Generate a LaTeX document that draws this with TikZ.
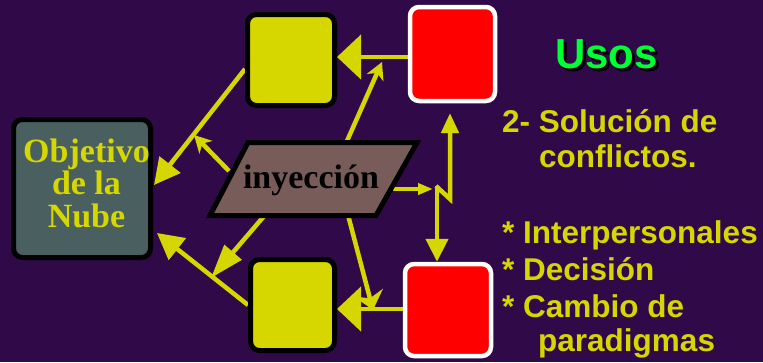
\documentclass[tikz,border=0pt]{standalone}
\usepackage{fontspec}
\setmainfont{Liberation Serif}
\setsansfont{Liberation Sans}[Ligatures=CommonOff]
\usetikzlibrary{arrows.meta}
\definecolor{bgpurple}{RGB}{48,10,72}
\definecolor{lemon}{RGB}{214,214,0}
\definecolor{slate}{RGB}{74,96,96}
\definecolor{clay}{RGB}{120,92,90}
\definecolor{brightgreen}{RGB}{0,255,51}
\pgfdeclarelayer{back}
\pgfdeclarelayer{links}
\pgfsetlayers{back,links,main}

\begin{document}
\begin{tikzpicture}[x=1pt,y=-1pt,
  box/.style={rectangle,rounded corners=9pt,line width=5pt,draw=black,inner sep=0pt},
  goalbox/.style={box,fill=slate,minimum width=137pt,minimum height=138pt},
  lemonbox/.style={box,fill=lemon},
  redbox/.style={box,draw=white,line width=4.5pt,fill=red},
  link/.style={draw=lemon,line width=4.5pt},
  bighead/.style={-{Triangle[length=24pt,width=44pt]}},
  goalhead/.style={-{Triangle[length=26pt,width=26pt]}},
  smallhead/.style={-{Stealth[length=17pt,width=18pt,inset=5pt]}},
  seriftext/.style={font=\bfseries\fontsize{34}{32.5}\selectfont,inner sep=0pt},
  listtext/.style={text=lemon,font=\sffamily\bfseries\fontsize{31.5}{36}\selectfont,anchor=base west,inner sep=0pt},
  titletext/.style={font=\sffamily\bfseries\fontsize{42}{42}\selectfont,anchor=base west,inner sep=0pt},
]
\useasboundingbox (0,0) rectangle (763,362);
\begin{pgfonlayer}{back}
  \fill[bgpurple] (0,0) rectangle (763,362);
\end{pgfonlayer}

% boxes
\node[goalbox] (goal) at (82,188.5) {};
\node[seriftext,text=lemon,align=center] (goaltext) at (86.5,183) {Objetivo\\de la\\Nube};
\node[lemonbox,minimum width=87pt,minimum height=91pt] (ytop) at (291,60) {};
\node[lemonbox,minimum width=84pt,minimum height=91pt] (ybot) at (292.5,305) {};
\node[redbox,minimum width=85pt,minimum height=94pt] (rtop) at (452.5,54) {};
\node[redbox,minimum width=86pt,minimum height=92pt] (rbot) at (448,310) {};

% injection parallelogram
\coordinate (pNW) at (248,142.5);
\coordinate (pNE) at (417,142.5);
\coordinate (pSE) at (376,215.5);
\coordinate (pSW) at (210,215.5);
\draw[line width=5pt,fill=clay] (pNW) -- (pNE) -- (pSE) -- (pSW) -- cycle;
\node[seriftext,text=black,anchor=base] (inj) at (311,188) {inyección};

% connector end points
\coordinate (injTop) at (347,141);
\coordinate (upTip) at (382,62);
\coordinate (injLeft) at (229,171);
\coordinate (leftTip) at (194,135);
\coordinate (injBotL) at (265,215);
\coordinate (lowTip) at (211,278);
\coordinate (injBotR) at (348,215);
\coordinate (downTip) at (373,310);
\coordinate (injRight) at (392,189);
\coordinate (fork) at (433,189);
\coordinate (zigA) at (436,186);
\coordinate (zigB) at (450,199);
\coordinate (zigTop) at (450,113);

\begin{pgfonlayer}{links}
  \draw[link,bighead] (rtop.west |- 0,57) -- (ytop.east |- 0,57);
  \draw[link,smallhead] (injTop) -- (upTip);
  \draw[link,goalhead] ([yshift=-9pt]ytop.west) -- ([xshift=1pt,yshift=3.5pt]goal.east);
  \draw[link,smallhead] (injLeft) -- (leftTip);
  \draw[link,-{Triangle[length=26pt,width=27pt]}] (ybot.west) -- ([xshift=4pt,yshift=-44.5pt]goal.east);
  \draw[link,-{Triangle[length=34pt,width=22pt]}] (injBotL) -- (lowTip);
  \draw[link,-{Stealth[length=18pt,width=30pt,inset=6pt]}] (injBotR) -- (downTip);
  \draw[link,bighead] (rbot.west |- 0,309) -- (ybot.east |- 0,309);
  \draw[link,-{Triangle[length=15pt,width=11pt]}] (injRight) -- (fork);
  \draw[link,-{Triangle[length=23pt,width=22pt]}] ([xshift=1pt]zigA) -- ([xshift=1pt]zigA |- rbot.north);
  \draw[link,-{Triangle[length=20pt,width=17pt]}] (zigA) -- (zigB) -- (zigTop);
\end{pgfonlayer}

% heading with drop shadow, and list
\node[titletext] (title) at (555,68)
  {\rlap{\hspace{3pt}\raisebox{-3pt}{\textcolor{black}{Usos}}}\textcolor{brightgreen}{Usos}};
\node[listtext] (l1) at (502,132) {2- Solución de};
\node[listtext] (l2) at (539,167) {conflictos.};
\node[listtext] (l3) at (502,243) {* Interpersonales};
\node[listtext] (l4) at (502,280) {* Decisión};
\node[listtext] (l5) at (502,317) {* Cambio de};
\node[listtext] (l6) at (538,351) {paradigmas};
\end{tikzpicture}
\end{document}
